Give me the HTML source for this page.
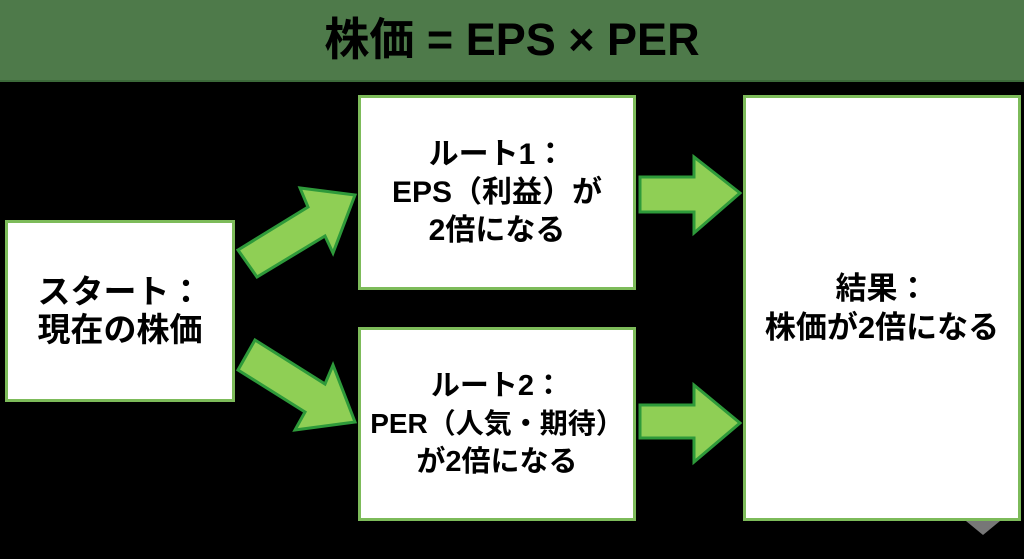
<!DOCTYPE html>
<html><head><meta charset="utf-8"><style>
body{margin:0;width:1024px;height:559px;background:#000;overflow:hidden;position:relative;font-family:"Liberation Sans","Noto Sans CJK JP",sans-serif;font-weight:bold}
.hd{position:absolute;left:0;top:0;width:1024px;height:80px;background:#4e7a4a;border-bottom:2px solid #3c6a3a;color:#000;font-size:45px;text-align:center;line-height:80px}
.b{position:absolute;background:#fff;border:3px solid #7dbb5a;box-sizing:border-box;display:flex;align-items:center;justify-content:center;text-align:center;color:#000}
</style></head><body>
<div class="hd">株価 = EPS × PER</div>
<div class="b" style="left:5px;top:220px;width:230px;height:182px;font-size:33px;line-height:38px"><div>スタート：<br>現在の株価</div></div>
<div class="b" style="left:358px;top:95px;width:278px;height:195px;font-size:30px;line-height:38px"><div>ルート1：<br>EPS（利益）が<br>2倍になる</div></div>
<div class="b" style="left:358px;top:327px;width:278px;height:194px;font-size:29px;line-height:38px"><div>ルート2：<br><span style="font-size:28px;white-space:nowrap">PER（人気・期待）</span><br>が2倍になる</div></div>
<div class="b" style="left:743px;top:95px;width:278px;height:426px;font-size:31px;line-height:39px"><div>結果：<br>株価が2倍になる</div></div>
<svg width="1024" height="559" style="position:absolute;left:0;top:0">
<g fill="#8fcf55" stroke="#2e9a3a" stroke-width="3" stroke-linejoin="miter">
<polygon points="238,250 308,207 300,188 355,195 333,253 325,236 257,277"/>
<polygon points="255,340 325,384 333,365 355,422 295,430 305,412 238,370"/>
<polygon points="640,177 694,177 694,157 740,193 694,233 694,212 640,212"/>
<polygon points="640,405 694,405 694,385 740,423 694,462 694,438 640,438"/>
</g>
<polygon points="966,521 1000,521 983,535" fill="#777"/>
</svg>
</body></html>
